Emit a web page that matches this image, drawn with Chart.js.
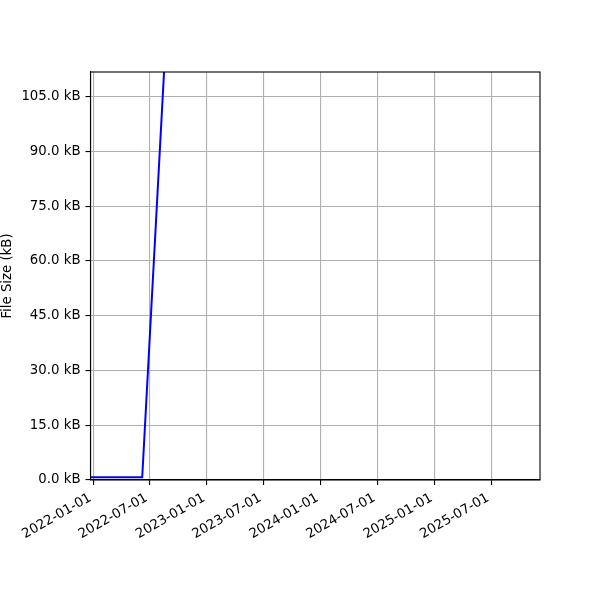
<!DOCTYPE html>
<html>
<head>
<meta charset="utf-8">
<script src="https://cdn.jsdelivr.net/npm/chart.js@4/dist/chart.umd.min.js"></script>
<style>
  html, body { margin: 0; padding: 0; background: #fff; }
  #wrap { width: 600px; height: 600px; }
</style>
</head>
<body>
<div id="wrap"><canvas id="chart" width="600" height="600"></canvas></div>
<script>
// ---- data ----
const sampleDates = ['2021-12-23', '2022-06-07', '2022-09-01'];
const fileSizesKB = [0.75, 0.75, 137];

const xTickLabels = ['2022-01-01', '2022-07-01', '2023-01-01', '2023-07-01',
                     '2024-01-01', '2024-07-01', '2025-01-01', '2025-07-01'];
const xRange = ['2021-12-23', '2025-12-05'];

const yTickValues = [0, 15, 30, 45, 60, 75, 90, 105];
const yMax = 111.8;

// ---- helpers ----
const toMs = s => { const [y, m, d] = s.split('-').map(Number); return Date.UTC(y, m - 1, d); };
const xTickValues = xTickLabels.map(toMs);

const FONT = { family: '"DejaVu Sans", sans-serif', size: 13.3 };
Chart.defaults.color = '#000';
Chart.defaults.font.family = FONT.family;

// full black frame round the plot, like matplotlib spines
const framePlugin = {
  id: 'frame',
  afterDraw(chart) {
    const { ctx, chartArea: a } = chart;
    ctx.save();
    ctx.strokeStyle = '#000';
    ctx.lineWidth = 1.1;
    ctx.strokeRect(a.left, a.top, a.right - a.left, a.bottom - a.top);
    ctx.restore();
  }
};

new Chart(document.getElementById('chart'), {
  type: 'line',
  data: {
    datasets: [{
      data: sampleDates.map((d, i) => ({ x: toMs(d), y: fileSizesKB[i] })),
      borderColor: '#0000ff',
      borderWidth: 2,
      pointRadius: 0,
      tension: 0,
      fill: false
    }]
  },
  options: {
    responsive: false,
    animation: false,
    devicePixelRatio: 1,
    layout: { padding: { top: 72, right: 60, left: 0, bottom: 0 } },
    plugins: { legend: { display: false }, tooltip: { enabled: false } },
    scales: {
      x: {
        type: 'linear',
        min: toMs(xRange[0]),
        max: toMs(xRange[1]),
        afterBuildTicks: s => { s.ticks = xTickValues.map(v => ({ value: v })); },
        afterFit: s => { s.height = 120; },
        ticks: {
          font: FONT,
          minRotation: 30,
          maxRotation: 30,
          autoSkip: false,
          padding: 5,
          labelOffset: -3,
          callback: (v, i) => xTickLabels[i]
        },
        grid: { color: '#b0b0b0', lineWidth: 1.1, tickColor: '#000', tickWidth: 1.1, tickLength: 5 },
        border: { display: true, color: '#000', width: 1.1 }
      },
      y: {
        min: 0,
        max: yMax,
        afterBuildTicks: s => { s.ticks = yTickValues.map(v => ({ value: v })); },
        afterFit: s => { s.width = 90.5; },
        ticks: {
          font: FONT,
          padding: 5,
          callback: v => v.toFixed(1) + ' kB'
        },
        title: { display: true, text: 'File Size (kB)', font: FONT, padding: { top: 0, bottom: 0 } },
        grid: { color: '#b0b0b0', lineWidth: 1.1, tickColor: '#000', tickWidth: 1.1, tickLength: 5 },
        border: { display: true, color: '#000', width: 1.1 }
      }
    }
  },
  plugins: [framePlugin]
});
</script>
</body>
</html>
